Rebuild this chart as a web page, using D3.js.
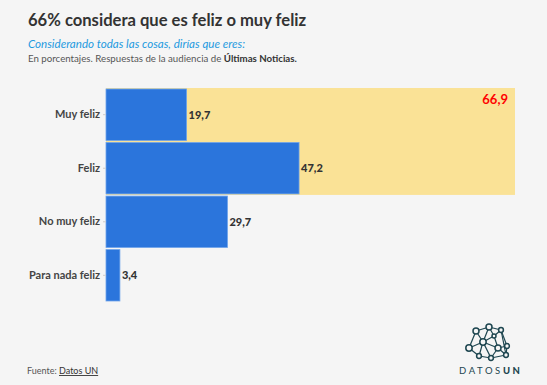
<!DOCTYPE html>
<html>
<head>
<meta charset="utf-8">
<script src="https://cdn.jsdelivr.net/npm/d3@7"></script>
<style>
  body { margin: 0; background: #f5f5f5; }
  svg { display: block; font-family: "Source Sans Pro", Lato, "Open Sans", sans-serif; }
</style>
</head>
<body>
<svg id="chart" width="547" height="385"></svg>
<script>
const categories = ['Muy feliz', 'Feliz', 'No muy feliz', 'Para nada feliz'];
const values = [19.7, 47.2, 29.7, 3.4];
const highlight = ['Muy feliz', 'Feliz'];
const highlightLabel = '66,9';

const fmt = v => String(v).replace('.', ',');

const svg = d3.select('svg#chart');

svg.append('rect').attr('width', 547).attr('height', 385).attr('fill', '#f5f5f5');

// headline block
svg.append('text')
  .attr('x', 28).attr('y', 26)
  .style('font-size', '16.6px').style('font-weight', 700).style('fill', '#333')
  .text('66% considera que es feliz o muy feliz');

svg.append('text')
  .attr('x', 28).attr('y', 48)
  .style('font-size', '11.6px').style('font-style', 'italic').style('fill', '#1d9ae0')
  .text('Considerando todas las cosas, dirías que eres:');

const desc = svg.append('text')
  .attr('x', 28).attr('y', 62)
  .style('font-size', '9.7px').style('fill', '#555');
desc.append('tspan').text('En porcentajes. Respuestas de la audiencia de ');
desc.append('tspan').style('font-weight', 700).style('fill', '#333').text('Últimas Noticias.');

const x = d3.scaleLinear().domain([0, 100]).range([106, 515]);
const y = d3.scaleBand().domain(categories).range([89, 301]).paddingInner(0.04);

const g = svg.append('g');

// highlight band behind the first two bars
const hTop = y(highlight[0]);
const hBottom = y(highlight[highlight.length - 1]) + y.bandwidth();
g.append('rect')
  .attr('x', x(0)).attr('y', hTop - 1)
  .attr('width', x(100) - x(0)).attr('height', hBottom - hTop + 2)
  .attr('fill', '#fae296');

g.append('text')
  .attr('x', x(100) - 7).attr('y', hTop + 15)
  .attr('text-anchor', 'end')
  .style('font-size', '13px').style('font-weight', 700).style('fill', '#ff0000')
  .text(highlightLabel);

g.selectAll('rect.bar').data(categories)
  .enter().append('rect')
    .attr('class', 'bar')
    .attr('x', x(0))
    .attr('y', d => y(d))
    .attr('width', (d, i) => x(values[i]) - x(0))
    .attr('height', y.bandwidth())
    .attr('fill', '#2b75dc')
    .attr('stroke', '#6ea3ea')
    .attr('stroke-width', 0.8);

g.selectAll('text.val').data(categories)
  .enter().append('text')
    .attr('class', 'val')
    .attr('x', (d, i) => x(values[i]) + 2)
    .attr('y', d => y(d) + y.bandwidth() / 2)
    .attr('dy', '0.35em')
    .style('font-size', '11px').style('font-weight', 900).style('fill', '#333')
    .text((d, i) => fmt(values[i]));

const axis = svg.append('g')
  .attr('transform', `translate(${x(0)},0)`)
  .call(d3.axisLeft(y).tickSize(3).tickPadding(3));
axis.select('.domain').remove();
axis.selectAll('line').attr('stroke', '#ccc');
axis.selectAll('text')
  .style('font-size', '11px').style('font-weight', 700).style('fill', '#444')
  .style('font-family', '"Source Sans Pro", Lato, "Open Sans", sans-serif');

// footer
const src = svg.append('text')
  .attr('x', 27).attr('y', 374)
  .style('font-size', '9px').style('fill', '#555');
src.append('tspan').text('Fuente: ');
src.append('tspan').style('fill', '#333').style('text-decoration', 'underline').text('Datos UN');

// logo
const nodes = [
  [489, 327, 3], [476, 331, 3], [501, 330, 2.4], [494, 336, 2], [483, 342, 3.2],
  [469, 348, 3.2], [507, 346, 2.4], [498, 348, 3], [479, 356, 2.4], [491, 358, 2.4], [506, 355, 2.4]
];
const links = [[0,1],[0,2],[1,4],[0,4],[0,3],[2,3],[2,6],[2,10],[3,4],[4,5],[4,7],[4,8],[4,9],
  [5,8],[5,1],[7,6],[7,10],[7,9],[6,10],[9,10],[8,9],[3,7]];
const logo = svg.append('g');
logo.selectAll('line').data(links)
  .enter().append('line')
    .attr('x1', d => nodes[d[0]][0]).attr('y1', d => nodes[d[0]][1])
    .attr('x2', d => nodes[d[1]][0]).attr('y2', d => nodes[d[1]][1])
    .attr('stroke', '#1e4650').attr('stroke-width', 1.2);
logo.selectAll('circle').data(nodes)
  .enter().append('circle')
    .attr('cx', d => d[0]).attr('cy', d => d[1]).attr('r', d => d[2])
    .attr('fill', '#f5f5f5').attr('stroke', '#1e4650').attr('stroke-width', 1.5);

const brand = svg.append('text')
  .attr('x', 459).attr('y', 374)
  .style('font-size', '9.5px').style('fill', '#1e4650').style('letter-spacing', '2.6px');
brand.append('tspan').text('DATOS');
brand.append('tspan').style('font-weight', 900).text('UN');
</script>
</body>
</html>
